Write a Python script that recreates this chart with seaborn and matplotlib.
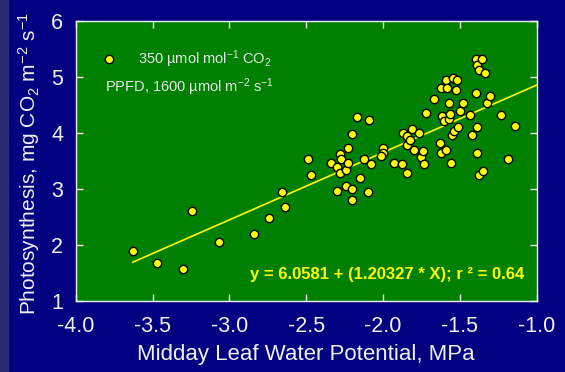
import numpy as np
import pandas as pd
import matplotlib
matplotlib.use("Agg")
import matplotlib.pyplot as plt
from matplotlib.patches import Rectangle
import seaborn as sns

# ---- data ----
water_potential = [
    -3.63, -3.47, -3.30, -3.24, -3.07, -2.84, -2.74, -2.66, -2.64, -2.49, -2.47,
    -2.34, -2.30, -2.30, -2.28, -2.28, -2.27, -2.24, -2.24, -2.23, -2.225,
    -2.20, -2.20, -2.20, -2.17, -2.15, -2.12, -2.10, -2.09, -2.08,
    -2.00, -2.00, -2.01, -1.93,
    -1.87, -1.875, -1.845, -1.845, -1.84, -1.825, -1.81, -1.80, -1.765,
    -1.75, -1.74, -1.73, -1.72,
    -1.665, -1.63, -1.62, -1.62, -1.617, -1.60, -1.59, -1.587, -1.58, -1.57,
    -1.57, -1.565, -1.56, -1.55, -1.545, -1.537, -1.524, -1.516, -1.51, -1.50, -1.48,
    -1.435, -1.42, -1.395, -1.394, -1.388, -1.386, -1.386, -1.375, -1.373,
    -1.353, -1.35, -1.335, -1.32, -1.303, -1.232, -1.185, -1.143,
]
photosynthesis = [
    1.90, 1.68, 1.57, 2.60, 2.05, 2.19, 2.49, 2.95, 2.68, 3.54, 3.25,
    3.47, 3.39, 2.96, 3.63, 3.28, 3.54, 3.34, 3.06, 3.47, 3.73,
    3.98, 3.00, 2.80, 4.29, 3.19, 3.53, 2.94, 4.23, 3.45,
    3.73, 3.64, 3.59, 3.46,
    4.00, 3.44, 3.95, 3.78, 3.28, 3.88, 4.07, 3.69, 4.00,
    3.58, 3.68, 3.44, 4.36,
    4.60, 3.82, 4.80, 3.64, 4.31, 4.21, 4.94, 3.70, 4.80, 4.53,
    4.25, 4.34, 3.46, 3.96, 4.99, 4.04, 4.77, 4.95, 4.10, 4.39, 4.53,
    4.32, 3.97, 4.71, 5.33, 3.65, 5.21, 4.10, 5.125, 3.25,
    5.33, 3.33, 5.07, 4.53, 4.655, 4.32, 3.54, 4.13,
]
intercept = 6.0581
slope = 1.20327
r_squared = 0.64
x_ticks = [-4.0, -3.5, -3.0, -2.5, -2.0, -1.5, -1.0]
y_ticks = [1, 2, 3, 4, 5, 6]
x_label = "Midday Leaf Water Potential, MPa"
y_label = "Photosynthesis, mg CO$_2$ m$^{-2}$ s$^{-1}$"
legend_line1 = "350 µmol mol$^{-1}$ CO$_2$"
legend_line2 = "PPFD, 1600 µmol m$^{-2}$ s$^{-1}$"

# ---- style ----
sns.set_style("ticks")
plt.rcParams["font.family"] = ["Liberation Sans", "DejaVu Sans"]
plt.rcParams["mathtext.fontset"] = "custom"
plt.rcParams["mathtext.rm"] = "Liberation Sans"
plt.rcParams["mathtext.it"] = "Liberation Sans:italic"
plt.rcParams["mathtext.bf"] = "Liberation Sans:bold"
plt.rcParams["mathtext.default"] = "regular"
plt.rcParams["axes.unicode_minus"] = False

NAVY = "#000080"
GREEN = "#008000"
YELLOW = "#ffff00"
WHITE = "#f0f0f0"

fig = plt.figure(figsize=(5.65, 3.72), dpi=100, facecolor=NAVY)
fig.patches.append(Rectangle((0, 0), 8 / 565, 1, transform=fig.transFigure,
                             color="#2a2a74", zorder=0))
ax = fig.add_axes([0.134, 0.191, 0.8156, 0.7525])
ax.set_facecolor(GREEN)

df = pd.DataFrame({"psi": water_potential, "ps": photosynthesis})

line_x = np.array([min(water_potential), x_ticks[-1]])
sns.lineplot(x=line_x, y=intercept + slope * line_x, color=YELLOW,
             linewidth=1.2, ax=ax, zorder=2)
sns.scatterplot(data=df, x="psi", y="ps", s=36, color=YELLOW,
                edgecolor="black", linewidth=1.0, ax=ax, zorder=3)

ax.set_xlim(x_ticks[0], x_ticks[-1])
ax.set_ylim(y_ticks[0], y_ticks[-1])
ax.set_xticks(x_ticks)
ax.set_xticklabels([f"{v:.1f}" for v in x_ticks])
ax.set_yticks(y_ticks)
ax.set_yticklabels([str(v) for v in y_ticks])

ax.tick_params(axis="both", which="both", direction="in", length=5, width=1,
               color=WHITE, labelcolor=WHITE, labelsize=15.5,
               top=True, right=True)
ax.tick_params(axis="x", pad=11)
ax.tick_params(axis="y", pad=9)
for sp in ax.spines.values():
    sp.set_color(WHITE)
    sp.set_linewidth(1.0)

ax.set_xlabel(x_label, color=WHITE, fontsize=16)
ax.set_ylabel(y_label, color=WHITE, fontsize=15)
ax.xaxis.set_label_coords(0.5, -0.155)
ax.yaxis.set_label_coords(-0.074, 0.49)

# legend-like annotation
ax.scatter([0.072], [0.864], transform=ax.transAxes, s=36, color=YELLOW,
           edgecolor="black", linewidth=1.0, zorder=4, clip_on=False)
ax.text(0.135, 0.862, legend_line1, transform=ax.transAxes, color="#e8e8e8",
        fontsize=10.5, va="center", ha="left")
ax.text(0.064, 0.762, legend_line2, transform=ax.transAxes, color="#e8e8e8",
        fontsize=10.5, va="center", ha="left")

ax.text(0.973, 0.096,
        f"y = {intercept:.4f} + ({slope:.5f} * X); r \u00b2 = {r_squared:.2f}",
        transform=ax.transAxes, color=YELLOW, fontsize=12, fontweight="bold",
        ha="right", va="center")

fig.savefig("out.png", dpi=100, facecolor=fig.get_facecolor())
